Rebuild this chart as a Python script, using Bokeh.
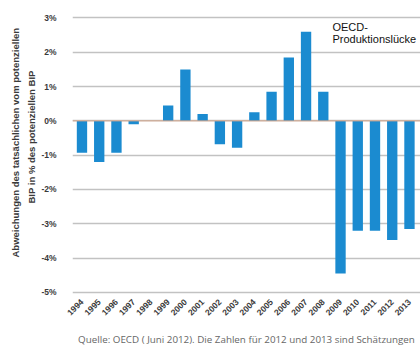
import math
from bokeh.plotting import figure
from bokeh.models import FixedTicker, PrintfTickFormatter, Span, Label, Range1d, Title
from bokeh.embed import file_html
from bokeh.resources import INLINE

years = [1994, 1995, 1996, 1997, 1998, 1999, 2000, 2001, 2002, 2003,
         2004, 2005, 2006, 2007, 2008, 2009, 2010, 2011, 2012, 2013]
gap = [-0.93, -1.2, -0.93, -0.1, 0.0, 0.45, 1.5, 0.2, -0.68, -0.78,
       0.25, 0.85, 1.85, 2.6, 0.85, -4.45, -3.2, -3.2, -3.47, -3.15]
y_ticks = [-5, -4, -3, -2, -1, 0, 1, 2, 3]

ylabel1 = "Abweichungen des tatsächlichen vom potenziellen"
ylabel2 = "BIP in % des potenziellen BIP"
note1 = "OECD-"
note2 = "Produktionslücke"
source = "Quelle: OECD ( Juni 2012). Die Zahlen für 2012 und 2013 sind Schätzungen"

p = figure(width=420, height=349, output_backend="svg", toolbar_location=None,
           x_range=Range1d(1993.45, 2013.64), y_range=Range1d(-5.12, 3.16),
           min_border_left=72, min_border_right=0, min_border_top=12,
           min_border_bottom=53)
p.outline_line_color = None
p.background_fill_color = "white"

p.vbar(x=years, top=gap, width=0.6, bottom=0, color="#1b8bd0", line_color=None)

p.add_layout(Span(location=0, dimension="width", line_color="#d4a58a", line_width=1))

# y axis
p.yaxis.ticker = FixedTicker(ticks=y_ticks)
p.yaxis.formatter = PrintfTickFormatter(format="%d%%")
p.yaxis.axis_line_color = None
p.yaxis.major_tick_line_color = None
p.yaxis.minor_tick_line_color = None
p.yaxis.major_tick_out = 0
p.yaxis.minor_tick_out = 0
p.yaxis.major_label_standoff = 16
p.yaxis.major_label_text_font = "Liberation Sans"
p.yaxis.major_label_text_font_style = "bold"
p.yaxis.major_label_text_font_size = "8.5px"
p.yaxis.major_label_text_color = "#3a3a3a"

p.ygrid.ticker = FixedTicker(ticks=y_ticks)
p.ygrid.grid_line_color = "#c2c2c2"
p.ygrid.grid_line_width = 1.3
p.xgrid.grid_line_color = None

# x axis
p.xaxis.ticker = FixedTicker(ticks=years)
p.xaxis.major_label_orientation = math.pi / 4
p.xaxis.axis_line_color = None
p.xaxis.major_tick_line_color = None
p.xaxis.minor_tick_line_color = None
p.xaxis.major_tick_out = 0
p.xaxis.minor_tick_out = 0
p.xaxis.major_label_standoff = 4
p.xaxis.major_label_text_font = "Liberation Sans"
p.xaxis.major_label_text_font_style = "bold"
p.xaxis.major_label_text_font_size = "8.5px"
p.xaxis.major_label_text_color = "#3a3a3a"
p.xaxis.axis_label = source
p.xaxis.axis_label_standoff = 12
p.xaxis.axis_label_text_font = "Open Sans"
p.xaxis.axis_label_text_font_style = "normal"
p.xaxis.axis_label_text_font_size = "9.8px"
p.xaxis.axis_label_text_color = "#666666"

# rotated y title (two lines, start of text placed via offset from frame bottom)
for txt, so, off in [(ylabel2, 4, 93), (ylabel1, 2, 39)]:
    p.add_layout(Title(text=txt, align="left", offset=off, standoff=so,
                       text_font="Liberation Sans", text_font_style="bold",
                       text_font_size="9.5px", text_color="#3a3a3a"), "left")

p.add_layout(Label(x=2008.53, y=2.9, text=note1, text_align="left",
                   text_baseline="top", text_font="Liberation Sans",
                   text_font_size="11px", text_color="#111111"))
p.add_layout(Label(x=2008.53, y=2.55, text=note2, text_align="left",
                   text_baseline="top", text_font="Liberation Sans",
                   text_font_size="11px", text_color="#111111"))

open("out.html", "w").write(file_html(p, INLINE))
